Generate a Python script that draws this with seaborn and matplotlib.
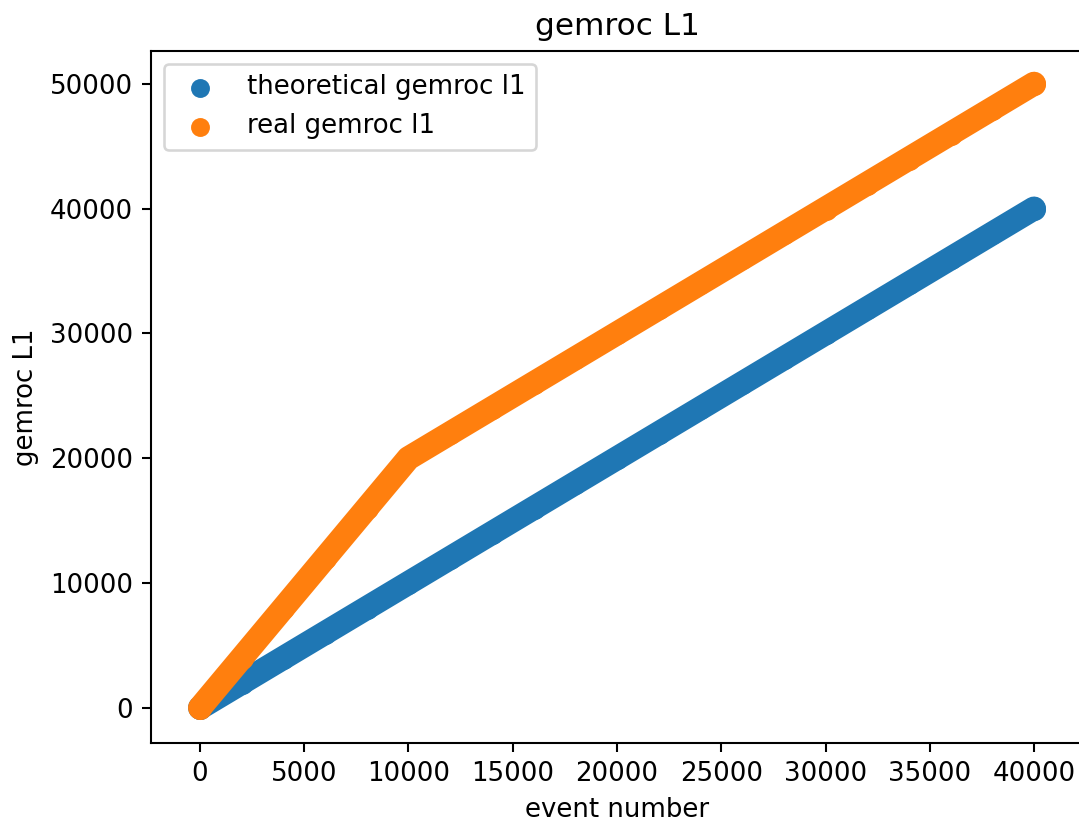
import seaborn as sns
import pandas as pd
import matplotlib.pyplot as plt

event_number = [0, 2000, 4000, 6000, 8000, 10000, 12000, 14000, 16000, 18000, 20000,
                22000, 24000, 26000, 28000, 30000, 32000, 34000, 36000, 38000, 40000]
theoretical_l1 = [0, 2000, 4000, 6000, 8000, 10000, 12000, 14000, 16000, 18000, 20000,
                  22000, 24000, 26000, 28000, 30000, 32000, 34000, 36000, 38000, 40000]
real_l1 = [0, 4000, 8000, 12000, 16000, 20000, 22000, 24000, 26000, 28000, 30000,
           32000, 34000, 36000, 38000, 40000, 42000, 44000, 46000, 48000, 50000]

names = ["theoretical gemroc l1", "real gemroc l1"]
colors = ["#1f77b4", "#ff7f0e"]

df = pd.concat([
    pd.DataFrame({"event": event_number, "l1": theoretical_l1, "series": names[0]}),
    pd.DataFrame({"event": event_number, "l1": real_l1, "series": names[1]}),
])

dpi = 187
fig = plt.figure(figsize=(1079 / dpi, 823 / dpi), dpi=dpi)
ax = fig.add_axes([151 / 1079, (823 - 742.7) / 823, (1083 - 151) / 1079, (742.7 - 51) / 823])

band = 24 / dpi * 72  # marker diameter in points
for i, (name, col) in enumerate(zip(names, colors)):
    sub = df[df["series"] == name]
    z = 2 + 2 * i
    sns.lineplot(data=sub, x="event", y="l1", color=col, linewidth=band,
                 solid_capstyle="round", legend=False, ax=ax, zorder=z)
    sns.scatterplot(data=sub, x="event", y="l1", color=col, s=(band * 0.96) ** 2,
                    linewidth=0, label=name, ax=ax, zorder=z + 1)

ax.set_xlim(-2350, 42350)
ax.set_ylim(-2800, 52620)
ax.set_title("gemroc L1")
ax.set_xlabel("event number")
ax.set_ylabel("gemroc L1")
ax.legend(loc="upper left", markerscale=0.82)

fig.savefig("out.png", dpi=dpi)
